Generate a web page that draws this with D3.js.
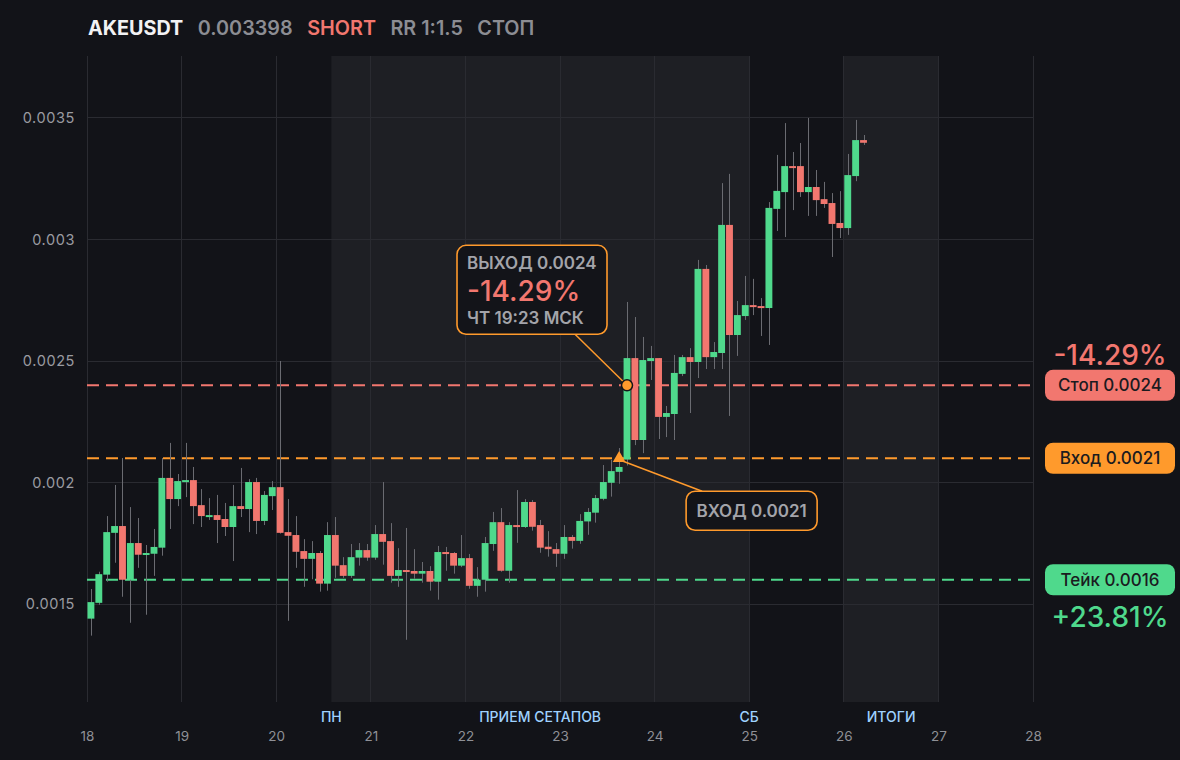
<!DOCTYPE html>
<html><head><meta charset="utf-8">
<script src="https://cdn.jsdelivr.net/npm/d3@7"></script>
<style>
body{margin:0;background:#121318;}
svg{display:block;font-family:Inter,"Noto Sans",sans-serif;}
</style>
</head><body>
<svg id="chart" width="1180" height="760"></svg>
<script>
// ---------- DATA ----------
const symbol = "AKEUSDT";
const lastPrice = "0.003398";
const side = "SHORT";
const rr = "RR 1:1.5";
const status = "СТОП";
const firstDay = 18;          // first candle starts at day 18, 00:00
const candleHours = 2;        // 2h candles
const dayTicks = [18,19,20,21,22,23,24,25,26,27,28];
const priceTicks = [0.0015,0.002,0.0025,0.003,0.0035];

const open = [0.001440,0.001505,0.001621,0.001793,0.001821,0.001600,0.001751,0.001703,0.001707,0.001732,
0.002019,0.001932,0.002002,0.002010,0.001907,0.001858,0.001866,0.001850,0.001817,0.001903,
0.001891,0.002002,0.001842,0.001944,0.001981,0.001796,0.001784,0.001718,0.001686,0.001710,
0.001584,0.001784,0.001660,0.001616,0.001691,0.001722,0.001691,0.001788,0.001759,0.001616,
0.001640,0.001636,0.001625,0.001636,0.001592,0.001714,0.001710,0.001658,0.001689,0.001575,
0.001600,0.001747,0.001837,0.001637,0.001825,0.001817,0.001920,0.001825,0.001736,0.001726,
0.001707,0.001776,0.001760,0.001840,0.001876,0.001933,0.001999,0.002044,0.002095,0.002512,
0.002175,0.002500,0.002512,0.002270,0.002282,0.002447,0.002516,0.002496,0.002879,0.002516,
0.002533,0.003060,0.002607,0.002685,0.002730,0.002726,0.002718,0.003126,0.003195,0.003302,
0.003302,0.003195,0.003216,0.003166,0.003150,0.003068,0.003047,0.003261,0.003409];
const high = [0.001562,0.001633,0.001862,0.001990,0.002101,0.001899,0.001854,0.001743,0.001809,0.002101,
0.002163,0.002035,0.002163,0.002064,0.001973,0.001936,0.001949,0.001916,0.001990,0.002060,
0.002014,0.002019,0.001965,0.002006,0.002500,0.001932,0.001862,0.001767,0.001759,0.001718,
0.001837,0.001858,0.001693,0.001747,0.001751,0.001747,0.001825,0.002002,0.001833,0.001730,
0.001813,0.001726,0.001673,0.001656,0.001739,0.001735,0.001714,0.001784,0.001706,0.001652,
0.001776,0.001879,0.001895,0.001837,0.001969,0.001932,0.001928,0.001846,0.001800,0.001751,
0.001825,0.001784,0.001870,0.001895,0.001949,0.002072,0.002093,0.002142,0.002743,0.002681,
0.002599,0.002562,0.002512,0.002315,0.002525,0.002525,0.002553,0.002916,0.002895,0.002578,
0.003232,0.003270,0.002747,0.002850,0.002838,0.002759,0.003154,0.003348,0.003479,0.003360,
0.003397,0.003500,0.003286,0.003237,0.003191,0.003199,0.003352,0.003492,0.003430];
const low = [0.001370,0.001497,0.001592,0.001670,0.001530,0.001423,0.001649,0.001456,0.001616,0.001699,
0.001809,0.001903,0.001940,0.001829,0.001817,0.001846,0.001751,0.001780,0.001677,0.001858,
0.001796,0.001788,0.001825,0.001887,0.001790,0.001431,0.001649,0.001571,0.001602,0.001551,
0.001555,0.001608,0.001608,0.001608,0.001658,0.001678,0.001682,0.001662,0.001588,0.001571,
0.001353,0.001604,0.001588,0.001555,0.001518,0.001637,0.001625,0.001652,0.001563,0.001530,
0.001551,0.001719,0.001633,0.001588,0.001752,0.001813,0.001802,0.001711,0.001695,0.001653,
0.001686,0.001728,0.001748,0.001785,0.001835,0.001927,0.001942,0.001995,0.002070,0.002154,
0.002121,0.002422,0.002179,0.002187,0.002175,0.002438,0.002286,0.002430,0.002467,0.002467,
0.002467,0.002274,0.002521,0.002669,0.002689,0.002603,0.002566,0.003035,0.003010,0.003121,
0.003175,0.003097,0.003097,0.003130,0.002928,0.003006,0.003019,0.003240,0.003389];
const close = [0.001508,0.001623,0.001796,0.001821,0.001600,0.001751,0.001703,0.001710,0.001735,0.002019,
0.001932,0.002006,0.002010,0.001903,0.001862,0.001866,0.001846,0.001817,0.001903,0.001891,
0.002002,0.001842,0.001949,0.001981,0.001793,0.001781,0.001715,0.001686,0.001710,0.001584,
0.001784,0.001658,0.001616,0.001693,0.001722,0.001691,0.001788,0.001756,0.001616,0.001640,
0.001633,0.001625,0.001636,0.001592,0.001714,0.001707,0.001658,0.001689,0.001575,0.001600,
0.001751,0.001837,0.001637,0.001825,0.001817,0.001920,0.001818,0.001732,0.001726,0.001707,
0.001776,0.001760,0.001842,0.001879,0.001936,0.002002,0.002047,0.002064,0.002512,0.002175,
0.002504,0.002512,0.002270,0.002286,0.002451,0.002516,0.002496,0.002879,0.002516,0.002537,
0.003060,0.002607,0.002689,0.002730,0.002722,0.002718,0.003130,0.003200,0.003302,0.003294,
0.003195,0.003216,0.003162,0.003146,0.003064,0.003047,0.003265,0.003409,0.003398];

const levelNames  = ["Стоп","Вход","Тейк"];
const levelValues = [0.0024, 0.0021, 0.0016];
const levelColors = ["#f2776f","#ff9a2c","#4fd98c"];
const stopPct = "-14.29%";
const takePct = "+23.81%";

const bandRanges = [[20.583, 25],[26, 27]];
const sessionLabels = ["ПН","ПРИЕМ СЕТАПОВ","СБ","ИТОГИ"];
const sessionAt = [20.583, 22.79, 25, 26.5];

const entryIndex = 67, entryPrice = 0.0021, entryText = "ВХОД 0.0021";
const exitIndex = 68, exitPrice = 0.0024;
const exitLines = ["ВЫХОД 0.0024","-14.29%","ЧТ 19:23 МСК"];

// ---------- SCALES ----------
const svg = d3.select("#chart");
const W = 1180, H = 760;
const plotTop = 56, plotBottom = 702;
const x = d3.scaleLinear().domain([18, 28]).range([87, 1033]);
const y = d3.scaleLinear().domain([0.001097, 0.003755]).range([plotBottom, plotTop]);

const BG = "#121318", BAND = "#1e1f24", GRID = "#2a2b31";
const GREEN = "#4fd98c", RED = "#f2776f", ORANGE = "#ff9a2c";
const MUTED = "#a3a4aa";

svg.append("rect").attr("width", W).attr("height", H).attr("fill", BG);

// bands
svg.append("g").selectAll("rect").data(bandRanges).join("rect")
  .attr("x", d => x(d[0])).attr("width", d => x(d[1]) - x(d[0]))
  .attr("y", plotTop).attr("height", plotBottom - plotTop).attr("fill", BAND);

// grid
const grid = svg.append("g");
grid.selectAll(".vg").data(dayTicks).join("line")
  .attr("x1", d => x(d)).attr("x2", d => x(d)).attr("y1", plotTop).attr("y2", plotBottom)
  .attr("stroke", GRID).attr("stroke-width", 1).attr("shape-rendering","crispEdges");
grid.selectAll(".hg").data(priceTicks).join("line")
  .attr("x1", x(18)).attr("x2", x(28)).attr("y1", d => y(d)).attr("y2", d => y(d))
  .attr("stroke", GRID).attr("stroke-width", 1).attr("shape-rendering","crispEdges");

// y axis labels
const yAxis = d3.axisLeft(y).tickValues(priceTicks).tickSize(0).tickPadding(0)
  .tickFormat(d => String(+d.toFixed(4)));
const gy = svg.append("g").attr("transform", `translate(${x(18)-12},0)`).call(yAxis);
gy.select(".domain").remove();
gy.selectAll("text").attr("fill", "#9a9ba1").attr("font-size", 14.5)
  .attr("letter-spacing", 0.6).attr("font-family", "Inter, sans-serif");

// x axis labels
const xAxis = d3.axisBottom(x).tickValues(dayTicks).tickSize(0).tickPadding(0).tickFormat(d3.format("d"));
const gx = svg.append("g").attr("transform", `translate(0,${plotBottom+29})`).call(xAxis);
gx.select(".domain").remove();
gx.selectAll("text").attr("fill", "#8f9096").attr("font-size", 13.5)
  .attr("font-family", "Inter, sans-serif");

// session labels
svg.append("g").selectAll("text").data(sessionLabels).join("text")
  .attr("x", (d,i) => x(sessionAt[i])).attr("y", plotBottom + 20)
  .attr("text-anchor", "middle").attr("fill", "#9fd2ff").attr("font-size", 14)
  .attr("font-weight", 500).text(d => d);

// level lines
svg.append("g").selectAll("line").data(levelValues).join("line")
  .attr("x1", x(18)).attr("x2", x(28)).attr("y1", d => y(d)).attr("y2", d => y(d))
  .attr("stroke", (d,i) => levelColors[i]).attr("stroke-width", 2)
  .attr("stroke-dasharray", "12,7");

// candles
const candles = open.map((o,i) => ({
  t: firstDay + (i*candleHours + candleHours/2)/24,
  o, h: high[i], l: low[i], c: close[i]
}));
const step = x(firstDay + candleHours/24) - x(firstDay);
const bw = step - 1;
const cg = svg.append("g");
cg.selectAll("line").data(candles).join("line")
  .attr("x1", d => Math.round(x(d.t)) + 0.5).attr("x2", d => Math.round(x(d.t)) + 0.5)
  .attr("y1", d => y(d.h)).attr("y2", d => y(d.l))
  .attr("stroke", "#6a6b71").attr("stroke-width", 1);
cg.selectAll("rect").data(candles).join("rect")
  .attr("x", d => x(d.t) - bw/2).attr("width", bw)
  .attr("y", d => y(Math.max(d.o, d.c)))
  .attr("height", d => Math.max(2, Math.abs(y(d.o) - y(d.c))))
  .attr("fill", d => d.c >= d.o ? GREEN : RED);

// ---------- Annotations ----------
const ex = x(candles[exitIndex].t), ey = y(exitPrice);
const en = x(candles[entryIndex].t), eny = y(entryPrice);

// exit box
const bx = ex - 170, by = ey - 140, bwid = 150, bht = 89;
svg.append("line").attr("x1", bx + 118).attr("y1", by + bht).attr("x2", ex).attr("y2", ey)
  .attr("stroke", ORANGE).attr("stroke-width", 1.5);
svg.append("rect").attr("x", bx).attr("y", by).attr("width", bwid).attr("height", bht)
  .attr("rx", 9).attr("fill", "#131419").attr("stroke", ORANGE).attr("stroke-width", 1.6);
svg.append("text").attr("x", bx + 10).attr("y", by + 24).attr("fill", MUTED)
  .attr("font-size", 17).attr("font-weight", 600).text(exitLines[0]);
svg.append("text").attr("x", bx + 10).attr("y", by + 56).attr("fill", RED)
  .attr("font-size", 28).attr("font-weight", 500).text(exitLines[1]);
svg.append("text").attr("x", bx + 10).attr("y", by + 79).attr("fill", MUTED)
  .attr("font-size", 17).attr("font-weight", 600).text(exitLines[2]);
svg.append("circle").attr("cx", ex).attr("cy", ey).attr("r", 5.5)
  .attr("fill", ORANGE).attr("stroke", "#131419").attr("stroke-width", 1.5);

// entry box
const ebx = en + 67, eby = eny + 33, ebw = 131, ebh = 39;
svg.append("line").attr("x1", en + 4).attr("y1", eny + 3).attr("x2", ebx + 16).attr("y2", eby)
  .attr("stroke", ORANGE).attr("stroke-width", 1.5);
svg.append("path").attr("d", d3.symbol(d3.symbolTriangle, 70)())
  .attr("transform", `translate(${en},${eny})`).attr("fill", ORANGE);
svg.append("rect").attr("x", ebx).attr("y", eby).attr("width", ebw).attr("height", ebh)
  .attr("rx", 9).attr("fill", "#131419").attr("stroke", ORANGE).attr("stroke-width", 1.6);
svg.append("text").attr("x", ebx + ebw/2).attr("y", eby + 26).attr("text-anchor", "middle")
  .attr("fill", MUTED).attr("font-size", 17).attr("font-weight", 600).text(entryText);

// right-side pills
const pg = svg.append("g");
levelValues.forEach((v,i) => {
  const cy = y(v);
  pg.append("rect").attr("x", 1045).attr("y", cy - 15.5).attr("width", 130).attr("height", 31)
    .attr("rx", 8).attr("fill", levelColors[i]);
  pg.append("text").attr("x", 1110).attr("y", cy + 6).attr("text-anchor", "middle")
    .attr("fill", "#1b1b1f").attr("font-size", 17).attr("font-weight", 500)
    .text(`${levelNames[i]} ${v.toFixed(4)}`);
});
pg.append("text").attr("x", 1110).attr("y", y(levelValues[0]) - 20.5).attr("text-anchor", "middle")
  .attr("fill", RED).attr("font-size", 28).attr("font-weight", 500).text(stopPct);
pg.append("text").attr("x", 1110).attr("y", y(levelValues[2]) + 47).attr("text-anchor", "middle")
  .attr("fill", GREEN).attr("font-size", 28).attr("font-weight", 500).text(takePct);

// header
const header = [
  {t: symbol, c: "#f2f2f4", w: 700},
  {t: lastPrice, c: "#8c8d93", w: 600},
  {t: side, c: RED, w: 600},
  {t: rr, c: "#8c8d93", w: 600},
  {t: status, c: "#8c8d93", w: 600}
];
let hx = 88;
header.forEach(h => {
  const t = svg.append("text").attr("x", hx).attr("y", 35).attr("fill", h.c)
    .attr("font-size", 19.8).attr("font-weight", h.w).text(h.t);
  hx += t.node().getComputedTextLength() + 14.5;
});
</script>
</body></html>
